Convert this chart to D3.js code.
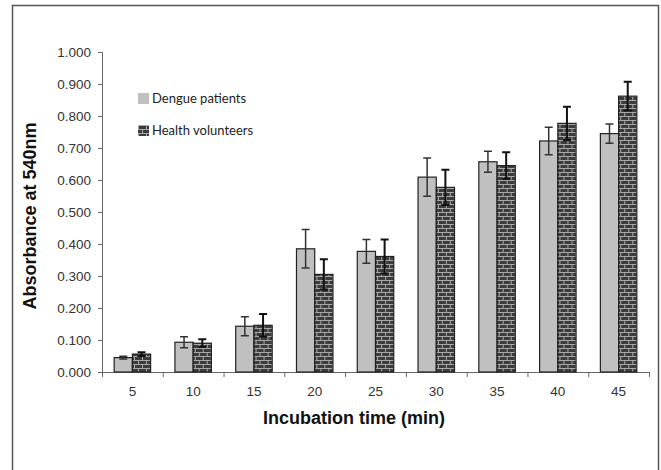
<!DOCTYPE html>
<html>
<head>
<meta charset="utf-8">
<script src="https://cdn.jsdelivr.net/npm/d3@7"></script>
<style>
  body { margin: 0; background: #fff; }
  #chart { width: 661px; height: 470px; }
</style>
</head>
<body>
<div id="chart"></div>
<script>
// values
const times = ["5", "10", "15", "20", "25", "30", "35", "40", "45"];
const seriesNames = ["Dengue patients", "Health volunteers"];
const dengue = [0.045, 0.093, 0.143, 0.385, 0.377, 0.609, 0.657, 0.722, 0.745];
const dengueErr = [0.004, 0.017, 0.030, 0.060, 0.037, 0.060, 0.033, 0.043, 0.030];
const volunteers = [0.056, 0.090, 0.146, 0.305, 0.361, 0.577, 0.645, 0.777, 0.862];
const volunteersErr = [0.006, 0.012, 0.035, 0.047, 0.053, 0.055, 0.042, 0.052, 0.045];
const yTicks = [0, 0.1, 0.2, 0.3, 0.4, 0.5, 0.6, 0.7, 0.8, 0.9, 1.0];

const width = 661, height = 470;
const margin = {top: 52, right: 12, bottom: 98, left: 102};

const svg = d3.select("#chart").append("svg")
    .attr("width", width)
    .attr("height", height);

// brick pattern for the volunteer bars
const defs = svg.append("defs");
const brick = defs.append("pattern")
    .attr("id", "brick")
    .attr("width", 8)
    .attr("height", 8)
    .attr("patternUnits", "userSpaceOnUse");
brick.append("rect").attr("width", 8).attr("height", 8).attr("fill", "#3c3c3c");
brick.append("path")
    .attr("d", "M0,0.5H8M0,4.5H8M0.5,0V4M4.5,4V8")
    .attr("stroke", "#a8a8a8")
    .attr("stroke-width", 1);

// outer frame
svg.append("rect")
    .attr("x", 12.5).attr("y", 5.5)
    .attr("width", 646).attr("height", 480)
    .attr("fill", "none")
    .attr("stroke", "#555")
    .attr("stroke-width", 1.5);

const chart = svg.append("g")
    .attr("transform", `translate(${margin.left},${margin.top})`);

const w = 547;
const h = 372 - margin.top;

const x = d3.scaleBand().domain(times).range([0, w]).paddingInner(0).paddingOuter(0);
const xSub = d3.scaleBand().domain(seriesNames).range([x.bandwidth() * 0.2, x.bandwidth() * 0.8]);
const y = d3.scaleLinear().domain([0, 1]).range([h, 0]);

// y axis
const yAxis = chart.append("g")
    .call(d3.axisLeft(y).tickValues(yTicks).tickFormat(d3.format(".3f")).tickSize(4).tickPadding(7));
yAxis.select(".domain").attr("stroke", "#666").attr("d", `M-4,${y(1) + 0.5}H0.5V${h + 0.5}`);
yAxis.selectAll(".tick line").attr("stroke", "#666");
yAxis.selectAll("text")
    .attr("fill", "#333")
    .style("font-family", "'Liberation Sans', Arial, sans-serif")
    .style("font-size", "13.5px");

// x axis, ticks between categories
const xAxis = chart.append("g")
    .attr("transform", `translate(0,${h})`)
    .call(d3.axisBottom(x).tickSize(0).tickPadding(14));
xAxis.select(".domain").attr("stroke", "#666");
xAxis.selectAll("text")
    .attr("fill", "#333")
    .style("font-family", "'Liberation Sans', Arial, sans-serif")
    .style("font-size", "13.5px");
chart.append("g")
    .attr("transform", `translate(0,${h})`)
    .selectAll("line")
    .data(times)
    .join("line")
    .attr("x1", d => x(d) + x.bandwidth() + 0.5)
    .attr("x2", d => x(d) + x.bandwidth() + 0.5)
    .attr("y1", 0).attr("y2", 5)
    .attr("stroke", "#666");
chart.append("line")
    .attr("x1", 0.5).attr("x2", 0.5).attr("y1", h).attr("y2", h + 5)
    .attr("stroke", "#666");

// bars
const rows = times.map((t, i) => ({
    t,
    items: [
        {name: seriesNames[0], v: dengue[i], e: dengueErr[i]},
        {name: seriesNames[1], v: volunteers[i], e: volunteersErr[i]}
    ]
}));

const groups = chart.selectAll(".grp")
    .data(rows)
    .join("g")
    .attr("class", "grp")
    .attr("transform", d => `translate(${x(d.t)},0)`);

groups.selectAll("rect")
    .data(d => d.items)
    .join("rect")
    .attr("x", d => xSub(d.name))
    .attr("width", xSub.bandwidth())
    .attr("y", d => y(d.v))
    .attr("height", d => y(0) - y(d.v))
    .attr("fill", d => d.name === seriesNames[0] ? "#c0c0c0" : "url(#brick)")
    .attr("stroke", "#222")
    .attr("stroke-width", 1.2);

// error bars
groups.selectAll(".err")
    .data(d => d.items)
    .join("path")
    .attr("class", "err")
    .attr("d", d => {
        const cx = xSub(d.name) + xSub.bandwidth() / 2;
        const t = y(d.v + d.e), b = y(d.v - d.e);
        return `M${cx - 4},${t}H${cx + 4}M${cx},${t}V${b}M${cx - 4},${b}H${cx + 4}`;
    })
    .attr("fill", "none")
    .attr("stroke", d => d.name === seriesNames[0] ? "#333" : "#111")
    .attr("stroke-width", d => d.name === seriesNames[0] ? 1.5 : 2);

// legend
const legend = svg.append("g").attr("transform", "translate(138,93)");
const li = legend.selectAll("g")
    .data(seriesNames)
    .join("g")
    .attr("transform", (d, i) => `translate(0,${i * 32})`);
li.append("rect")
    .attr("width", 11).attr("height", 11)
    .attr("fill", (d, i) => i === 0 ? "#c0c0c0" : "url(#brick)");
li.append("text")
    .attr("x", 14).attr("y", 10)
    .style("font-family", "Lato, 'Open Sans', sans-serif")
    .style("font-size", "13px")
    .attr("fill", "#222")
    .text(d => d);

// axis titles
svg.append("text")
    .attr("x", 354).attr("y", 424)
    .attr("text-anchor", "middle")
    .style("font-family", "'Liberation Sans', Arial, sans-serif")
    .style("font-weight", "bold")
    .style("font-size", "18px")
    .attr("fill", "#111")
    .text("Incubation time (min)");

svg.append("text")
    .attr("transform", "translate(36,216) rotate(-90)")
    .attr("text-anchor", "middle")
    .style("font-family", "'Liberation Sans', Arial, sans-serif")
    .style("font-weight", "bold")
    .style("font-size", "18px")
    .attr("fill", "#111")
    .text("Absorbance at 540nm");
</script>
</body>
</html>
